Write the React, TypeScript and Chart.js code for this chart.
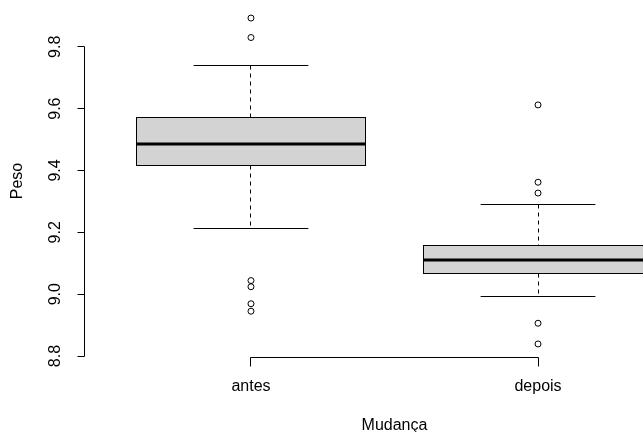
import React, { useEffect, useRef } from 'react';
import { Chart, registerables } from 'chart.js';

Chart.register(...registerables);

const categories = ['antes', 'depois'];
const lowerWhisker = [9.211, 8.992];
const q1 = [9.415, 9.068];
const median = [9.486, 9.111];
const q3 = [9.57, 9.159];
const upperWhisker = [9.739, 9.289];
const outliersAntes = [9.893, 9.83, 9.044, 9.024, 8.969, 8.945];
const outliersDepois = [9.612, 9.362, 9.327, 8.906, 8.839];
const yTicks = [8.8, 9.0, 9.2, 9.4, 9.6, 9.8];
const xTitle = 'Mudança';
const yTitle = 'Peso';

const FONT = '16px "Liberation Sans", Arial, sans-serif';

const allValues = [...outliersAntes, ...outliersDepois, ...lowerWhisker, ...upperWhisker];
const dMin = Math.min(...allValues);
const dMax = Math.max(...allValues);
const yMin = dMin - 0.04 * (dMax - dMin);
const yMax = dMax + 0.04 * (dMax - dMin);
const xMin = 0.5 - 0.04 * categories.length;
const xMax = categories.length + 0.5 + 0.04 * categories.length;

const crisp = (v: number) => Math.floor(v) + 0.5;

const boxPlugin = {
  id: 'rBoxes',
  beforeDatasetsDraw(chart: any) {
    const ctx = chart.ctx;
    const xs = chart.scales.x;
    const ys = chart.scales.y;
    ctx.save();
    categories.forEach((_, i) => {
      const c = i + 1;
      const xl = xs.getPixelForValue(c - 0.4);
      const xr = xs.getPixelForValue(c + 0.4);
      const xc = crisp(xs.getPixelForValue(c));
      const cl = xs.getPixelForValue(c - 0.2);
      const cr = xs.getPixelForValue(c + 0.2);
      const yq1 = crisp(ys.getPixelForValue(q1[i]));
      const yq3 = crisp(ys.getPixelForValue(q3[i]));
      const ymed = ys.getPixelForValue(median[i]);
      const ylo = crisp(ys.getPixelForValue(lowerWhisker[i]));
      const yhi = crisp(ys.getPixelForValue(upperWhisker[i]));
      ctx.strokeStyle = '#000';
      ctx.lineWidth = 1;
      ctx.setLineDash([4, 4]);
      ctx.beginPath();
      ctx.moveTo(xc, yhi);
      ctx.lineTo(xc, yq3);
      ctx.moveTo(xc, yq1);
      ctx.lineTo(xc, ylo);
      ctx.stroke();
      ctx.setLineDash([]);
      ctx.beginPath();
      ctx.moveTo(cl, yhi);
      ctx.lineTo(cr, yhi);
      ctx.moveTo(cl, ylo);
      ctx.lineTo(cr, ylo);
      ctx.stroke();
      ctx.fillStyle = '#d3d3d3';
      ctx.fillRect(crisp(xl), yq3, crisp(xr) - crisp(xl), yq1 - yq3);
      ctx.strokeRect(crisp(xl), yq3, crisp(xr) - crisp(xl), yq1 - yq3);
      ctx.lineWidth = 3;
      ctx.beginPath();
      ctx.moveTo(crisp(xl), Math.round(ymed));
      ctx.lineTo(crisp(xr), Math.round(ymed));
      ctx.stroke();
    });
    ctx.restore();
  },
  afterDraw(chart: any) {
    const ctx = chart.ctx;
    const xs = chart.scales.x;
    const ys = chart.scales.y;
    const area = chart.chartArea;
    ctx.save();
    ctx.strokeStyle = '#000';
    ctx.fillStyle = '#000';
    ctx.lineWidth = 1;
    ctx.font = FONT;
    const ax = crisp(area.left);
    const yTop = crisp(ys.getPixelForValue(yTicks[yTicks.length - 1]));
    const yBot = crisp(ys.getPixelForValue(yTicks[0]));
    ctx.beginPath();
    ctx.moveTo(ax, yTop);
    ctx.lineTo(ax, yBot);
    yTicks.forEach((t) => {
      const y = crisp(ys.getPixelForValue(t));
      ctx.moveTo(ax - 7, y);
      ctx.lineTo(ax, y);
    });
    ctx.stroke();
    ctx.textAlign = 'center';
    ctx.textBaseline = 'middle';
    yTicks.forEach((t) => {
      const y = ys.getPixelForValue(t);
      ctx.save();
      ctx.translate(ax - 29, y);
      ctx.rotate(-Math.PI / 2);
      ctx.fillText(t.toFixed(1), 0, 0);
      ctx.restore();
    });
    ctx.save();
    ctx.translate(18, (area.top + area.bottom) / 2);
    ctx.rotate(-Math.PI / 2);
    ctx.fillText(yTitle, 0, 0);
    ctx.restore();
    const ay = crisp(area.bottom);
    const x1 = crisp(xs.getPixelForValue(1));
    const x2 = crisp(xs.getPixelForValue(categories.length));
    ctx.beginPath();
    ctx.moveTo(x1, ay);
    ctx.lineTo(x2, ay);
    categories.forEach((_, i) => {
      const x = crisp(xs.getPixelForValue(i + 1));
      ctx.moveTo(x, ay);
      ctx.lineTo(x, ay + 9);
    });
    ctx.stroke();
    categories.forEach((c, i) => {
      ctx.fillText(c, xs.getPixelForValue(i + 1), ay + 29);
    });
    ctx.fillText(xTitle, (area.left + area.right) / 2, ay + 68);
    ctx.restore();
  },
};

export default function App() {
  const ref = useRef<HTMLCanvasElement | null>(null);
  useEffect(() => {
    if (!ref.current) return;
    const chart = new Chart(ref.current, {
      type: 'scatter',
      data: {
        datasets: [
          {
            label: categories[0],
            data: outliersAntes.map((v) => ({ x: 1, y: v })),
            pointRadius: 3,
            pointBorderWidth: 1,
            pointBorderColor: '#000',
            pointBackgroundColor: 'rgba(0,0,0,0)',
          },
          {
            label: categories[1],
            data: outliersDepois.map((v) => ({ x: 2, y: v })),
            pointRadius: 3,
            pointBorderWidth: 1,
            pointBorderColor: '#000',
            pointBackgroundColor: 'rgba(0,0,0,0)',
          },
        ],
      },
      options: {
        responsive: false,
        animation: false,
        devicePixelRatio: 1,
        layout: { padding: { left: 84.5, right: 15.5, top: 5, bottom: 75 } },
        plugins: { legend: { display: false }, tooltip: { enabled: false } },
        scales: {
          x: { type: 'linear', min: xMin, max: xMax, display: false },
          y: { type: 'linear', min: yMin, max: yMax, display: false },
        },
      },
      plugins: [boxPlugin],
    });
    return () => chart.destroy();
  }, []);
  return (
    <div
      style={{
        position: 'fixed',
        left: 0,
        top: 0,
        width: 643,
        height: 432,
        overflow: 'hidden',
        background: '#fff',
      }}
    >
      <canvas ref={ref} width={720} height={432} style={{ width: 720, height: 432, display: 'block' }} />
    </div>
  );
}
